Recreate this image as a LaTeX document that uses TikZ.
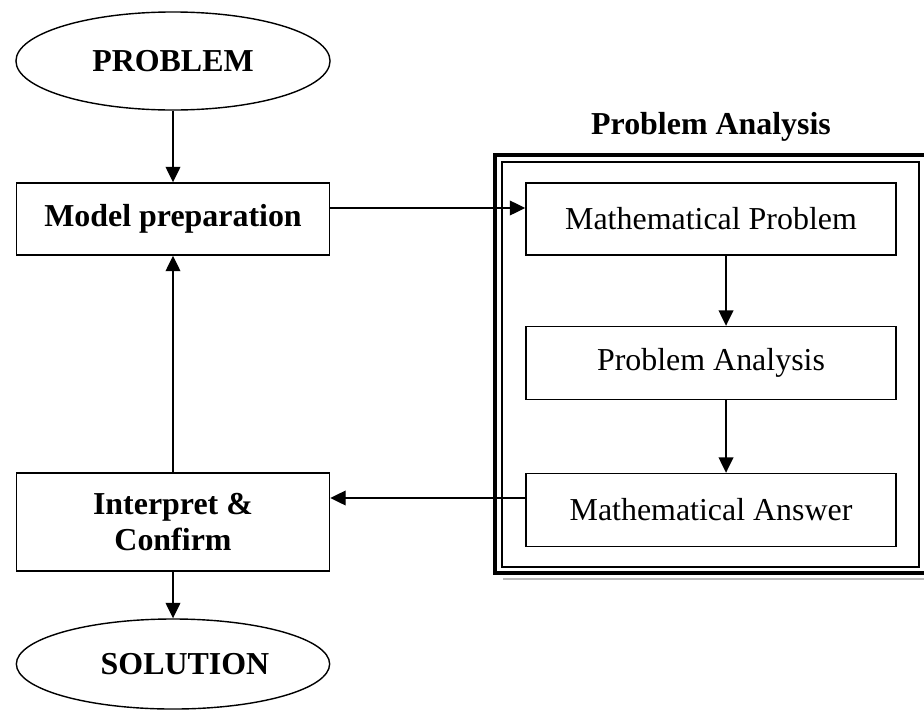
\documentclass[tikz,border=0pt]{standalone}
\usepackage{fontspec}
\setmainfont{Liberation Serif}
\usetikzlibrary{shapes.geometric,arrows.meta}

\begin{document}
\begin{tikzpicture}[x=0.025cm,y=-0.025cm,
  box/.style={draw, line width=1pt, font=\fontsize{22.7}{25}\selectfont, align=center, inner sep=0pt},
  oval/.style={draw, ellipse, line width=1pt, inner sep=0pt, font=\fontsize{22.7}{25}\selectfont\bfseries},
  arr/.style={-{Triangle[length=11pt,width=10.5pt]}, line width=1pt}]
\useasboundingbox (0,0) rectangle (924,711);
% left column
\node[oval, minimum width=7.85cm, minimum height=2.45cm] (prob) at (173,61) {PROBLEM};
\node[box, font=\fontsize{22.7}{25}\selectfont\bfseries, minimum width=7.825cm, minimum height=1.8cm] (prep) at (173,219) {Model preparation};
\node[box, font=\fontsize{22.7}{25}\selectfont\bfseries, minimum width=7.825cm, minimum height=2.45cm] (interp) at (173,522) {Interpret \&\\Confirm};
\node[oval, minimum width=7.83cm, minimum height=2.25cm] (sol) at (173,664) {\hspace*{0.6cm}SOLUTION};
% problem analysis frame
\node[font=\fontsize{22.7}{25}\selectfont\bfseries] (title) at (711,127) {Problem Analysis};
\draw[gray!55, line width=1.6pt] (503,579) -- (924,579);
\draw[line width=2.2pt] (495,155) rectangle (926,573);
\draw[line width=1pt] (502,162) rectangle (919,567);
\node[box, minimum width=9.25cm, minimum height=1.8cm] (mprob) at (711,219) {Mathematical Problem};
\node[box, minimum width=9.25cm, minimum height=1.825cm] (panal) at (711,363) {Problem Analysis};
\node[box, minimum width=9.25cm, minimum height=1.825cm] (mans) at (711,510) {Mathematical Answer};
% connectors
\draw[arr] (prob) -- (prep);
\draw[arr] ([yshift=0.275cm]prep.east) -- ([yshift=0.275cm]mprob.west);
\draw[arr] ([xshift=0.375cm]mprob.south) -- ([xshift=0.375cm]panal.north);
\draw[arr] ([xshift=0.375cm]panal.south) -- ([xshift=0.375cm]mans.north);
\draw[arr] ([yshift=0.3cm]mans.west) -- ([yshift=0.3cm]mans.west -| interp.east);
\draw[arr] (interp) -- (prep);
\draw[arr] (interp) -- (sol);
\end{tikzpicture}
\end{document}
